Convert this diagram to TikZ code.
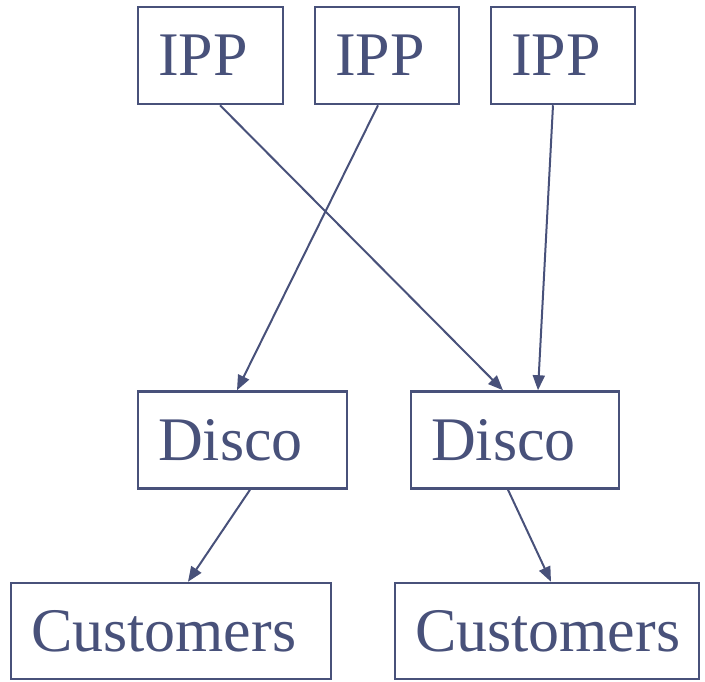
\documentclass[tikz,border=0pt]{standalone}
\usepackage{fontspec}
\setmainfont{Liberation Serif}
\usetikzlibrary{arrows.meta}

\definecolor{slate}{RGB}{72,81,122}

\tikzset{
	box/.style={draw=slate, line width=2.5pt, text=slate, align=left, inner xsep=20pt,
		minimum height=97pt, font=\fontsize{62}{62}\selectfont},
	flow/.style={draw=slate, line width=2pt, -{Triangle[length=15pt,width=12pt]}}
}

\begin{document}
\begin{tikzpicture}[x=1pt,y=-1pt]
	\useasboundingbox (0,0) rectangle (705,681);
	% producers
	\node [box, text width=105pt] (ipp1) at (210.5,55.5) {IPP};
	\node [box, text width=104pt] (ipp2) at (387,55.5) {IPP};
	\node [box, text width=104pt] (ipp3) at (563,55.5) {IPP};
	% distribution companies
	\node [box, text width=169pt] (disco1) at (242.5,440) {Disco};
	\node [box, text width=168pt] (disco2) at (515,440) {Disco};
	% end users
	\node [box, text width=280pt, minimum height=96pt] (cust1) at (171,631) {Customers};
	\node [box, text width=264pt, minimum height=96pt] (cust2) at (547,631) {Customers};
	% supply lines
	\draw [flow] ([xshift=9.5pt]ipp1.south) -- ([xshift=-12pt]disco2.north);
	\draw [flow] ([xshift=-9pt]ipp2.south) -- ([xshift=-5.5pt]disco1.north);
	\draw [flow] ([xshift=-10pt]ipp3.south) -- ([xshift=23pt]disco2.north);
	\draw [flow] ([xshift=7.5pt]disco1.south) -- ([xshift=17pt]cust1.north);
	\draw [flow] ([xshift=-7pt]disco2.south) -- ([xshift=4pt]cust2.north);
\end{tikzpicture}
\end{document}
